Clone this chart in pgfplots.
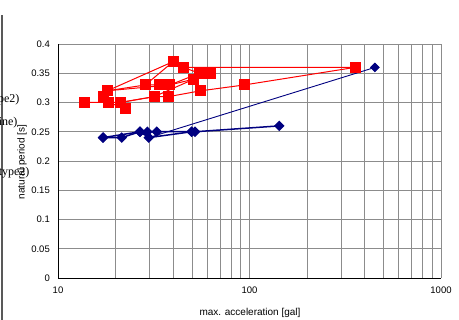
\documentclass[border=0pt]{standalone}
\usepackage{pgfplots}
\pgfplotsset{compat=1.18}
\usepackage{fontspec}
\setmainfont{Liberation Sans}
\newfontfamily\serifjp{Liberation Serif}
\definecolor{navyb}{HTML}{000080}
\definecolor{gridg}{HTML}{8C8C8C}
\begin{document}
\begin{tikzpicture}
\useasboundingbox (0pt,0pt) rectangle (459pt,320pt);
\fill[white] (0pt,0pt) rectangle (459pt,320pt);
\draw[gray!70!black, line width=1pt] (2pt,0pt) -- (2pt,305pt);
\node[font=\serifjp\fontsize{12}{14}\selectfont, anchor=east] at (23pt,220pt) {(type2)};
\node[font=\serifjp\fontsize{12}{14}\selectfont, anchor=east] at (21pt,197pt) {(line)};
\node[font=\serifjp\fontsize{12}{14}\selectfont, anchor=east] at (33pt,147pt) {(type2)};
\begin{axis}[
  at={(58pt,42pt)}, anchor=south west,
  scale only axis, width=383pt, height=234pt,
  xmode=log, xmin=10, xmax=1000, ymin=0, ymax=0.4,
  xtick={10,100,1000}, xticklabels={10,100,1000},
  ytick={0,0.05,0.1,0.15,0.2,0.25,0.3,0.35,0.4},
  yticklabels={0,0.05,0.1,0.15,0.2,0.25,0.3,0.35,0.4},
  grid=both,
  major grid style={gridg, line width=0.6pt},
  minor grid style={gridg, line width=0.6pt},
  major tick length=0pt, minor tick length=0pt,
  axis x line*=bottom, axis y line*=left,
  axis line style={black, line width=0.9pt, -},
  tick label style={font=\fontsize{9.5}{11}\selectfont},
  yticklabel style={inner sep=0pt, xshift=-8pt},
  xticklabel style={inner sep=0pt, yshift=-9pt},
  clip=false,
]
% red series
\addplot[red, line width=1pt, mark=square*, mark size=5pt, mark options={solid, fill=red, draw=red}] coordinates {
(13.7,0.30) (18.3,0.30) (21.1,0.30) (31.8,0.31) (37.7,0.31) (55.6,0.32) (94,0.33) (355.6,0.36)};
\addplot[red, line width=1pt, mark=square*, mark size=5pt, mark options={solid, fill=red, draw=red}] coordinates {
(17.2,0.31) (18.3,0.30) (22.4,0.29) (21.1,0.30) (31.8,0.31) (51.3,0.34) (62.2,0.35)};
\addplot[red, line width=1pt, mark=square*, mark size=5pt, mark options={solid, fill=red, draw=red}] coordinates {
(18.1,0.32) (40,0.37) (28.6,0.33) (33.8,0.33) (38.4,0.33) (54.7,0.35) (45.1,0.36) (355.6,0.36)};
\addplot[red, line width=1pt, mark=square*, mark size=5pt, mark options={solid, fill=red, draw=red}] coordinates {
(17.2,0.31) (18.1,0.32) (38.4,0.33) (51.3,0.34)};
\addplot[red, line width=1pt, mark=square*, mark size=5pt, mark options={solid, fill=red, draw=red}] coordinates {
(18.1,0.32) (28.6,0.33)};
% blue series
\addplot[navyb, line width=1.5pt, mark=square*, mark size=3pt, mark options={solid, rotate=45, fill=navyb, draw=navyb}] coordinates {
(17.2,0.24) (21.5,0.24) (26.8,0.25) (29.3,0.25) (32.8,0.25) (49.9,0.25) (51.9,0.25) (143,0.26)};
\addplot[navyb, line width=1.5pt, mark=square*, mark size=3pt, mark options={solid, rotate=45, fill=navyb, draw=navyb}] coordinates {
(17.2,0.24) (26.8,0.25) (29.8,0.24) (49.9,0.25)};
\addplot[navyb, line width=0.9pt, mark=square*, mark size=3pt, mark options={solid, rotate=45, fill=navyb, draw=navyb}] coordinates {
(29.8,0.24) (452,0.36)};
\end{axis}
\node[font=\fontsize{10}{12}\selectfont] at (250pt,7pt) {max. acceleration [gal]};
\node[font=\fontsize{10}{12}\selectfont, rotate=90] at (22pt,158pt) {natural period [s]};
\end{tikzpicture}
\end{document}
